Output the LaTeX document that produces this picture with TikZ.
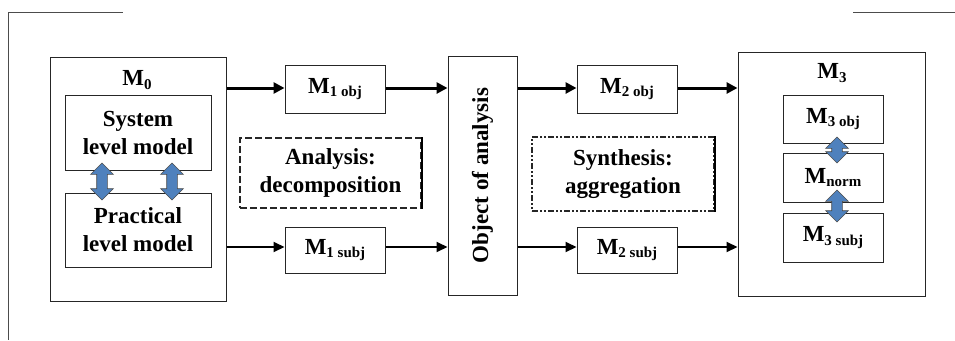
\documentclass[tikz,border=0pt]{standalone}
\usepackage{fontspec}
\setmainfont{Liberation Serif}
\usetikzlibrary{arrows.meta,shapes.arrows}
\newcommand\sbs[1]{\raisebox{-0.3ex}{\fontsize{15}{15}\selectfont #1}}
\begin{document}
\begin{tikzpicture}[x=1pt,y=-1pt,
  box/.style={draw=black!85,line width=1pt,inner sep=0pt,align=center},
  txt/.style={font=\fontsize{23}{28}\selectfont\bfseries},
  big/.style={line width=3pt,-{Triangle[length=11pt,width=11pt]}},
  small/.style={line width=2pt,-{Triangle[length=11pt,width=10pt]}},
  blue/.style={double arrow,draw=black!70,fill={rgb,255:red,79;green,129;blue,189},
     line width=0.6pt,inner sep=5pt,double arrow head extend=6pt,
     double arrow head indent=0pt,rotate=90},
  frame/.style={draw=black!70,line width=1pt}]
\useasboundingbox (0,0) rectangle (955,340);
\draw[frame] (8,12) -- (123,12);
\draw[frame] (8,12) -- (8,340);
\draw[frame] (853,12) -- (955,12);
% left
\node[box,minimum width=176pt,minimum height=244pt] (M0) at (138,179) {};
\node[txt] (m0l) at (137,80) {M\sbs{0}};
\node[box,txt,minimum width=146pt,minimum height=75pt] (sys) at (138,132.5) {System\\level model};
\node[box,txt,minimum width=146pt,minimum height=74pt] (prac) at (138,230) {Practical\\level model};
\node[blue,minimum height=37pt] (ba1) at (102,181.5) {};
\node[blue,minimum height=37pt] (ba2) at (172,181.5) {};
% column 1
\node[box,txt,minimum width=100pt,minimum height=48pt] (m1o) at (335,89) {M\sbs{1 obj}};
\node[box,txt,minimum width=100pt,minimum height=46pt] (m1s) at (335,250) {M\sbs{1 subj}};
\node[box,txt,dashed,dash pattern=on 7pt off 3pt,line width=2pt,minimum width=181pt,minimum height=70pt] (ana) at (330.5,173) {Analysis:\\decomposition};
\draw[line width=2pt] (ana.north east) -- (ana.south east);
% object
\node[box,minimum width=69pt,minimum height=239pt] (obj) at (482.5,175.5) {};
\node[txt,rotate=90] (objt) at (obj.center) {Object of analysis};
% column 2
\node[box,txt,minimum width=100pt,minimum height=48pt] (m2o) at (627,89) {M\sbs{2 obj}};
\node[box,txt,minimum width=100pt,minimum height=46pt] (m2s) at (627,250) {M\sbs{2 subj}};
\node[box,txt,dash pattern=on 6pt off 2pt on 2pt off 2pt on 2pt off 2pt,line width=2pt,minimum width=182pt,minimum height=74pt] (syn) at (623,174) {Synthesis:\\aggregation};
\draw[line width=2pt] (syn.north east) -- (syn.south east);
% right
\node[box,minimum width=187pt,minimum height=244pt] (M3) at (831.5,174) {};
\node[txt] (m3l) at (832,73) {M\sbs{3}};
\node[box,txt,minimum width=100pt,minimum height=48pt] (m3o) at (833,119) {M\sbs{3 obj}};
\node[box,txt,minimum width=100pt,minimum height=49pt] (mn) at (833,177.5) {M\sbs{norm}};
\node[box,txt,minimum width=100pt,minimum height=49pt] (m3s) at (833,237.5) {M\sbs{3 subj}};
\node[blue,minimum height=26pt] (ba3) at (837,150) {};
\node[blue,minimum height=32pt] (ba4) at (837,206) {};
% connectors
\draw[big] (M0.east |- 0,88) -- (m1o.west |- 0,88);
\draw[small] (M0.east |- 0,247) -- (m1s.west |- 0,247);
\draw[big] (m1o.east |- 0,88) -- (obj.west |- 0,88);
\draw[small] (m1s.east |- 0,247) -- (obj.west |- 0,247);
\draw[big] (obj.east |- 0,88) -- (m2o.west |- 0,88);
\draw[small] (obj.east |- 0,247) -- (m2s.west |- 0,247);
\draw[big] (m2o.east |- 0,88) -- (M3.west |- 0,88);
\draw[small] (m2s.east |- 0,247) -- (M3.west |- 0,247);
\end{tikzpicture}
\end{document}
